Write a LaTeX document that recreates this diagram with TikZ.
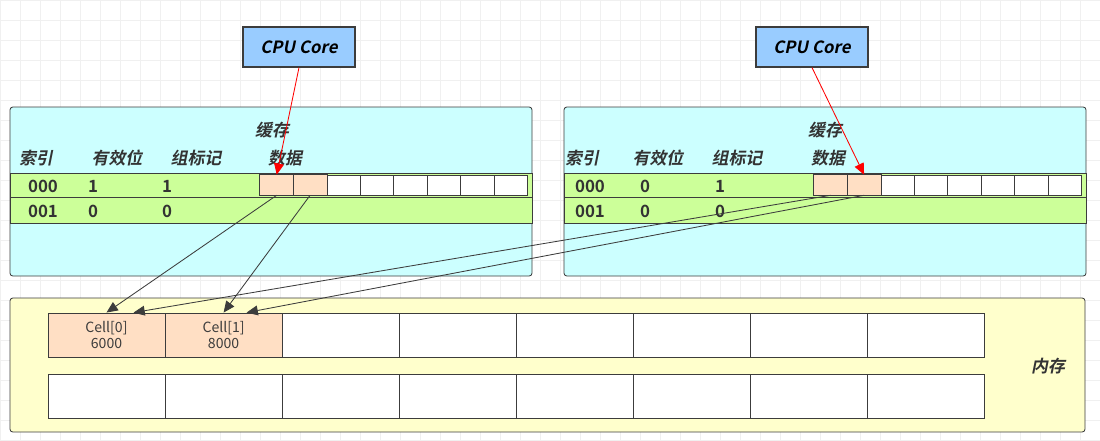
\documentclass[tikz,border=0pt]{standalone}
\usepackage{fontspec}
\setmainfont{Noto Sans CJK SC}[
  BoldFont={Noto Sans CJK SC Bold},
  ItalicFont={Noto Sans CJK SC},
  ItalicFeatures={FakeSlant=0.2},
  BoldItalicFont={Noto Sans CJK SC Bold},
  BoldItalicFeatures={FakeSlant=0.2}]
\usetikzlibrary{arrows.meta, positioning, calc}
\definecolor{corefill}{RGB}{153, 204, 255}
\definecolor{cachefill}{RGB}{204, 255, 255}
\definecolor{rowfill}{RGB}{204, 255, 153}
\definecolor{memfill}{RGB}{255, 255, 204}
\definecolor{hitfill}{RGB}{255, 223, 196}
\definecolor{edgegray}{RGB}{60, 60, 60}
\definecolor{gridgray}{RGB}{240, 240, 240}
\tikzset{
  corebox/.style={draw=edgegray, thick, fill=corefill, minimum width=2.8cm, minimum height=1cm, font=\bfseries\itshape\large},
  bigbox/.style={draw=edgegray, semithick, fill=#1, rounded corners=2pt},
  rowband/.style={draw=edgegray, semithick, fill=rowfill},
  datacell/.style={draw=edgegray, fill=white, minimum width=0.835cm, minimum height=0.5cm, inner sep=0pt},
  memcell/.style={draw=edgegray, semithick, fill=white, minimum width=2.928cm, minimum height=1.1cm, inner sep=0pt, align=center, text=edgegray},
  head/.style={font=\bfseries\itshape\large, text=black!80},
  val/.style={font=\bfseries\large, text=black!80},
  fetch/.style={-{Triangle[length=8pt, width=7pt]}, red, semithick},
  load/.style={-{Triangle[length=8pt, width=7pt]}, edgegray, semithick}
}
\begin{document}
\begin{tikzpicture}[x=0.025cm, y=-0.025cm]
  \useasboundingbox (0,0) rectangle (1100,441);
  % background grid
  \draw[gridgray, step=0.5cm] (0,0) grid (1100,441);

  % CPU cores
  \node[corebox] (cpuA) at (299,47) {CPU Core};
  \node[corebox] (cpuB) at (812,47) {CPU Core};

  % caches
  \foreach \dx/\side in {0/A, 554/B} {
    \begin{scope}[xshift=\dx*0.025cm]
      \draw[bigbox=cachefill] (10,107) rectangle (532,276);
      \draw[rowband] (10,173) rectangle (532,197);
      \draw[rowband] (10,197) rectangle (532,223);
      \foreach \i in {1,...,8}
        \node[datacell] (\side\i) at ({276.7+33.4*(\i-1)},185) {};
    \end{scope}
  }
  \fill[hitfill] (A1.north west) rectangle (A2.south east);
  \fill[hitfill] (B1.north west) rectangle (B2.south east);
  \foreach \side in {A,B}
    \foreach \i in {1,2}
      \draw[edgegray] (\side\i.north west) rectangle (\side\i.south east);

  % left cache texts
  \node[head] (cacheA) at (272,130) {缓存};
  \node[head] at (36,158) {索引};
  \node[head] at (117,158) {有效位};
  \node[head] at (196,158) {组标记};
  \node[head] at (285,158) {数据};
  \node[val] at (43,186) {000};
  \node[val] at (93,186) {1};
  \node[val] at (167,186) {1};
  \node[val] at (43,211) {001};
  \node[val] at (93,211) {0};
  \node[val] at (167,211) {0};

  % right cache texts
  \node[head] (cacheB) at (825,130) {缓存};
  \node[head] at (582,158) {索引};
  \node[head] at (658,158) {有效位};
  \node[head] at (737,158) {组标记};
  \node[head] at (828,158) {数据};
  \node[val] at (590,186) {000};
  \node[val] at (645,186) {0};
  \node[val] at (720,186) {1};
  \node[val] at (590,211) {001};
  \node[val] at (645,211) {0};
  \node[val] at (720,211) {0};

  % memory
  \draw[bigbox=memfill] (10,298) rectangle (1085,432);
  \foreach \i in {1,...,8} {
    \node[memcell] (m\i) at ({106.5+117.1*(\i-1)},335) {};
    \node[memcell] (n\i) at ({106.5+117.1*(\i-1)},396.5) {};
  }
  \node[memcell, fill=hitfill] at (m1) {Cell[0]\\6000};
  \node[memcell, fill=hitfill] at (m2) {Cell[1]\\8000};
  \node[head] (mem) at (1048,366) {内存};

  % connectors
  \draw[fetch] (cpuA.south) -- (A1.north);
  \draw[fetch] (cpuB.south) -- (B2.north);
  \draw[load] (A1.south) -- (m1.north);
  \draw[load] (A2.south) -- (m2.north);
  \draw[load] (B1.south) -- ($(m1.north)+(27,0)$);
  \draw[load] (B2.south) -- ($(m2.north)+(23,0)$);
\end{tikzpicture}
\end{document}
